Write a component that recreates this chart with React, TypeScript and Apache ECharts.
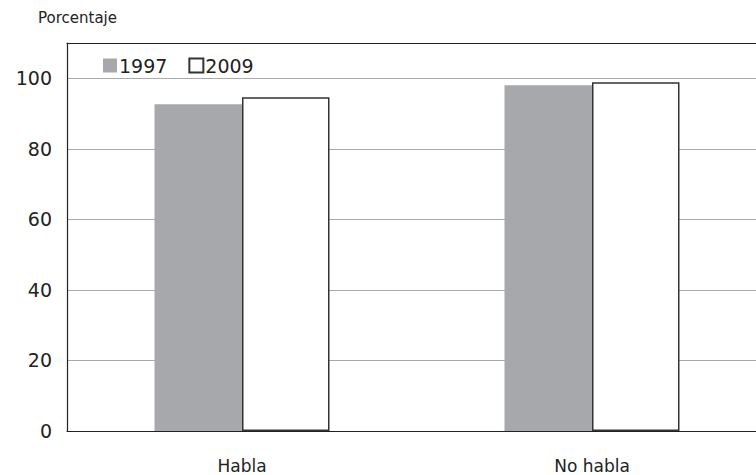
import React, { useEffect, useRef } from "react";
import * as echarts from "echarts";

const categories = ["Habla", "No habla"];
const values1997 = [92.6, 98.0];
const values2009 = [94.6, 98.9];
const seriesNames = ["1997", "2009"];
const yTitle = "Porcentaje";

export default function App() {
  const ref = useRef<HTMLDivElement>(null);
  useEffect(() => {
    const chart = echarts.init(ref.current!, null, { renderer: "svg" });
    const font = "'DejaVu Sans', 'Noto Sans', sans-serif";
    chart.setOption({
      animation: false,
      backgroundColor: "#fff",
      grid: { left: 67, top: 43, right: 3, bottom: 44, containLabel: false },
      graphic: [
        {
          type: "text",
          left: 38,
          top: 10,
          style: { text: yTitle, font: `15px ${font}`, fill: "#222" },
        },
      ],
      legend: {
        left: 98,
        top: 51,
        itemWidth: 14,
        itemHeight: 14,
        itemGap: 21,
        icon: "rect",
        textStyle: { fontFamily: font, fontSize: 19, color: "#222", padding: [0, 0, 0, -3] },
        data: seriesNames,
      },
      xAxis: [
        {
          type: "category",
          data: categories,
          axisLine: { lineStyle: { color: "#222", width: 1.2 } },
          axisTick: { show: false },
          axisLabel: { margin: 26, fontFamily: font, fontSize: 17, color: "#222" },
        },
        {
          type: "category",
          position: "top",
          data: categories,
          axisLine: { show: true, lineStyle: { color: "#222", width: 1.2 } },
          axisTick: { show: false },
          axisLabel: { show: false },
        },
      ],
      yAxis: {
        type: "value",
        min: 0,
        max: 110,
        interval: 20,
        axisLine: { show: true, lineStyle: { color: "#222", width: 1.2 } },
        axisTick: { show: false },
        axisLabel: {
          margin: 15,
          fontFamily: font,
          fontSize: 19,
          color: "#222",
          formatter: (v: number) => (v > 100 ? "" : String(v)),
        },
        splitLine: { lineStyle: { color: "#aaa", width: 1.2 } },
      },
      series: [
        {
          name: seriesNames[0],
          type: "bar",
          data: values1997,
          barWidth: 87.5,
          barGap: "0%",
          itemStyle: { color: "#a7a8ab" },
        },
        {
          name: seriesNames[1],
          type: "bar",
          data: values2009,
          barWidth: 87.5,
          barGap: "0%",
          itemStyle: { color: "#fff", borderColor: "#333", borderWidth: 1.5 },
        },
      ],
    });
    return () => chart.dispose();
  }, []);
  return (
    <div style={{ position: "fixed", left: 0, top: 0, width: 756, height: 475, overflow: "hidden" }}>
      <div ref={ref} style={{ width: 770, height: 475 }} />
    </div>
  );
}
